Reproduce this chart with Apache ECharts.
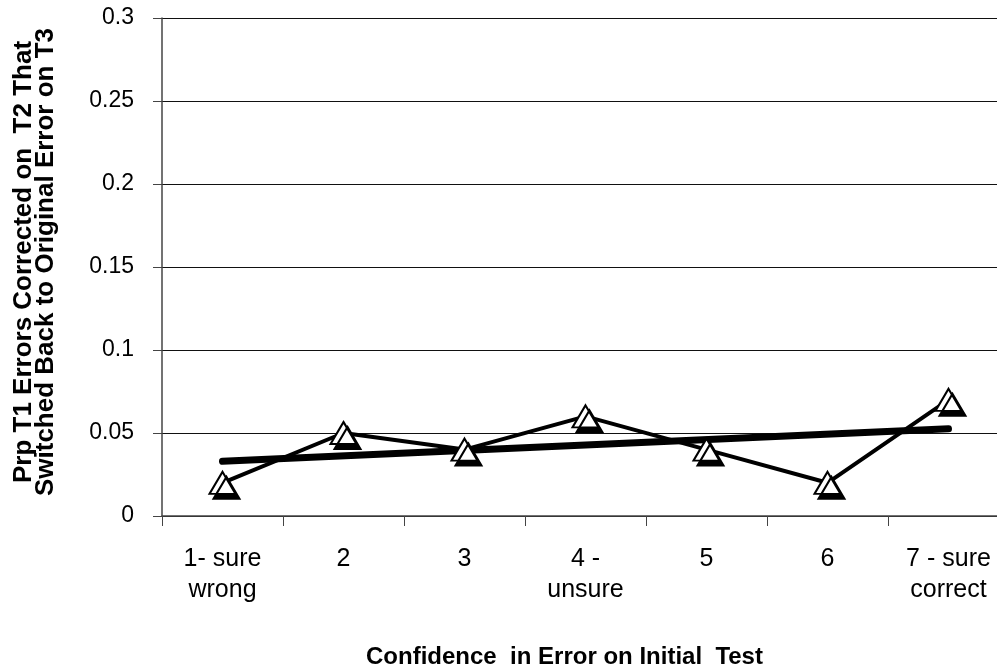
<!DOCTYPE html>
<html>
<head>
<meta charset="utf-8">
<script src="https://cdn.jsdelivr.net/npm/echarts@6/dist/echarts.min.js"></script>
<style>
  html, body { margin: 0; padding: 0; background: #fff; }
  #chart { width: 997px; height: 668px; }
</style>
</head>
<body>
<div id="chart"></div>
<script>
// Confidence levels on the initial test
const categories = ['1- sure\nwrong', '2', '3', '4 -\nunsure', '5', '6', '7 - sure\ncorrect'];
// Proportion of T1 errors corrected on T2 that switched back on T3
const switchedBack = [0.02, 0.05, 0.04, 0.06, 0.04, 0.02, 0.07];
// Linear trend endpoints (first and last confidence level)
const trendEnds = [0.033, 0.0525];
// Value-axis tick labels
const yTickLabels = ['0', '0.05', '0.1', '0.15', '0.2', '0.25', '0.3'];
const yStep = 0.05;

const trendData = categories.map((c, i) =>
  i === 0 ? trendEnds[0] : (i === categories.length - 1 ? trendEnds[1] : null));

const FONT = '"Liberation Sans", Arial, sans-serif';

const chart = echarts.init(document.getElementById('chart'), null, { renderer: 'canvas' });
chart.setOption({
  backgroundColor: '#ffffff',
  animation: false,
  // the plot area runs slightly past the right edge of the canvas
  grid: { left: 162, width: 847, top: 18, bottom: 152, containLabel: false, outerBoundsMode: 'none' },
  xAxis: {
    type: 'category',
    data: categories,
    boundaryGap: true,
    name: 'Confidence  in Error on Initial  Test',
    nameLocation: 'middle',
    nameGap: 129,
    nameTextStyle: {
      fontFamily: FONT, fontSize: 24, fontWeight: 'bold', color: '#000',
      padding: [0, 42, 0, 0]
    },
    axisLine: { lineStyle: { color: '#444', width: 1.5 } },
    axisTick: { show: true, inside: false, length: 10, alignWithLabel: false, lineStyle: { color: '#444' } },
    axisLabel: {
      fontFamily: FONT, fontSize: 25, color: '#000', margin: 28, lineHeight: 31, interval: 0
    },
    splitLine: { show: false }
  },
  yAxis: {
    type: 'value',
    min: 0,
    max: yStep * (yTickLabels.length - 1),
    interval: yStep,
    name: 'Prp T1 Errors Corrected on  T2 That\nSwitched Back to Original Error on T3',
    nameLocation: 'middle',
    nameGap: 105,
    nameTextStyle: {
      fontFamily: FONT, fontSize: 26, fontWeight: 'bold', color: '#000', lineHeight: 22,
      padding: [0, 0, 0, 10]
    },
    axisLine: { show: true, lineStyle: { color: '#444', width: 1.5 } },
    axisTick: { show: true, inside: false, length: 9, lineStyle: { color: '#444' } },
    axisLabel: {
      fontFamily: FONT, fontSize: 23, color: '#000', margin: 28,
      formatter: v => yTickLabels[Math.round(v / yStep)]
    },
    splitLine: { show: true, lineStyle: { color: '#111', width: 1 } }
  },
  series: [
    {
      name: 'Trend',
      type: 'line',
      data: trendData,
      connectNulls: true,
      showSymbol: false,
      symbol: 'none',
      lineStyle: { color: '#000', width: 7, cap: 'round' },
      silent: true,
      z: 2
    },
    {
      name: 'Switched back',
      type: 'line',
      data: switchedBack,
      symbol: 'triangle',
      symbolSize: [26, 22],
      lineStyle: { color: '#000', width: 4 },
      itemStyle: {
        color: '#fff',
        borderColor: '#000',
        borderWidth: 2,
        shadowColor: '#000',
        shadowBlur: 0,
        shadowOffsetX: 4,
        shadowOffsetY: 5
      },
      emphasis: { disabled: true },
      silent: true,
      z: 3
    }
  ]
});
</script>
</body>
</html>
